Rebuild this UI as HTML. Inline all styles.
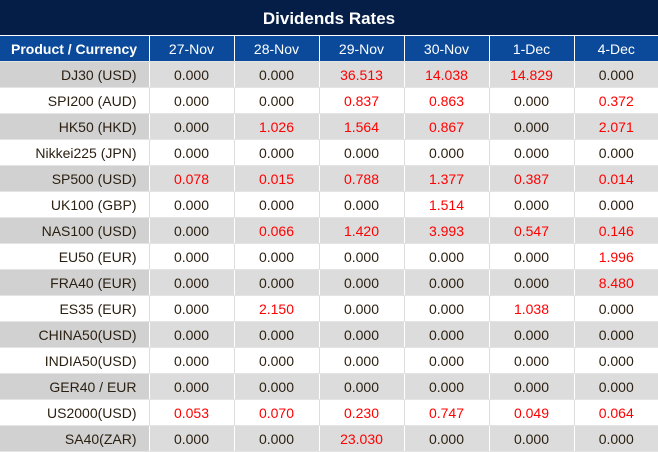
<!DOCTYPE html><html><head><style>
body{margin:0;width:658px;height:451px;overflow:hidden;background:#fff;font-family:"Liberation Sans",sans-serif}
.t{height:35px;background:#041e48;color:#fff;font-weight:bold;font-size:17px;text-align:center;line-height:37px;border-bottom:1px solid #fff}
table{border-collapse:collapse;table-layout:fixed;width:658px}
td{height:25px;padding:0;font-size:14px;color:#2a1f10;text-align:center;border-left:1px solid #ddd;border-bottom:1px solid #e4e4e4}
td:first-child{text-align:right;padding-right:12px;border-left:none}
tr.h td{background:#0b4a9b;color:#fff;border-left:1px solid #fff;height:25px}
tr.h td:first-child{font-weight:bold;text-align:left;padding-left:11px;padding-right:0;border-left:none}
tr.g td{background:#dcdcdc;border-left-color:#fff}
tr.g td:first-child{background:#d1d1d1}
.r{color:#f00}
</style></head><body>
<div class="t">Dividends Rates</div>
<table>
<colgroup><col style="width:149px"><col style="width:85px"><col style="width:85px"><col style="width:85px"><col style="width:85px"><col style="width:85px"><col style="width:84px"></colgroup>
<tr class="h"><td>Product / Currency</td><td>27-Nov</td><td>28-Nov</td><td>29-Nov</td><td>30-Nov</td><td>1-Dec</td><td>4-Dec</td></tr>
<tr class="g"><td>DJ30 (USD)</td><td>0.000</td><td>0.000</td><td class="r">36.513</td><td class="r">14.038</td><td class="r">14.829</td><td>0.000</td></tr>
<tr><td>SPI200 (AUD)</td><td>0.000</td><td>0.000</td><td class="r">0.837</td><td class="r">0.863</td><td>0.000</td><td class="r">0.372</td></tr>
<tr class="g"><td>HK50 (HKD)</td><td>0.000</td><td class="r">1.026</td><td class="r">1.564</td><td class="r">0.867</td><td>0.000</td><td class="r">2.071</td></tr>
<tr><td>Nikkei225 (JPN)</td><td>0.000</td><td>0.000</td><td>0.000</td><td>0.000</td><td>0.000</td><td>0.000</td></tr>
<tr class="g"><td>SP500 (USD)</td><td class="r">0.078</td><td class="r">0.015</td><td class="r">0.788</td><td class="r">1.377</td><td class="r">0.387</td><td class="r">0.014</td></tr>
<tr><td>UK100 (GBP)</td><td>0.000</td><td>0.000</td><td>0.000</td><td class="r">1.514</td><td>0.000</td><td>0.000</td></tr>
<tr class="g"><td>NAS100 (USD)</td><td>0.000</td><td class="r">0.066</td><td class="r">1.420</td><td class="r">3.993</td><td class="r">0.547</td><td class="r">0.146</td></tr>
<tr><td>EU50 (EUR)</td><td>0.000</td><td>0.000</td><td>0.000</td><td>0.000</td><td>0.000</td><td class="r">1.996</td></tr>
<tr class="g"><td>FRA40 (EUR)</td><td>0.000</td><td>0.000</td><td>0.000</td><td>0.000</td><td>0.000</td><td class="r">8.480</td></tr>
<tr><td>ES35 (EUR)</td><td>0.000</td><td class="r">2.150</td><td>0.000</td><td>0.000</td><td class="r">1.038</td><td>0.000</td></tr>
<tr class="g"><td>CHINA50(USD)</td><td>0.000</td><td>0.000</td><td>0.000</td><td>0.000</td><td>0.000</td><td>0.000</td></tr>
<tr><td>INDIA50(USD)</td><td>0.000</td><td>0.000</td><td>0.000</td><td>0.000</td><td>0.000</td><td>0.000</td></tr>
<tr class="g"><td>GER40 / EUR</td><td>0.000</td><td>0.000</td><td>0.000</td><td>0.000</td><td>0.000</td><td>0.000</td></tr>
<tr><td>US2000(USD)</td><td class="r">0.053</td><td class="r">0.070</td><td class="r">0.230</td><td class="r">0.747</td><td class="r">0.049</td><td class="r">0.064</td></tr>
<tr class="g"><td>SA40(ZAR)</td><td>0.000</td><td>0.000</td><td class="r">23.030</td><td>0.000</td><td>0.000</td><td>0.000</td></tr>
</table></body></html>
